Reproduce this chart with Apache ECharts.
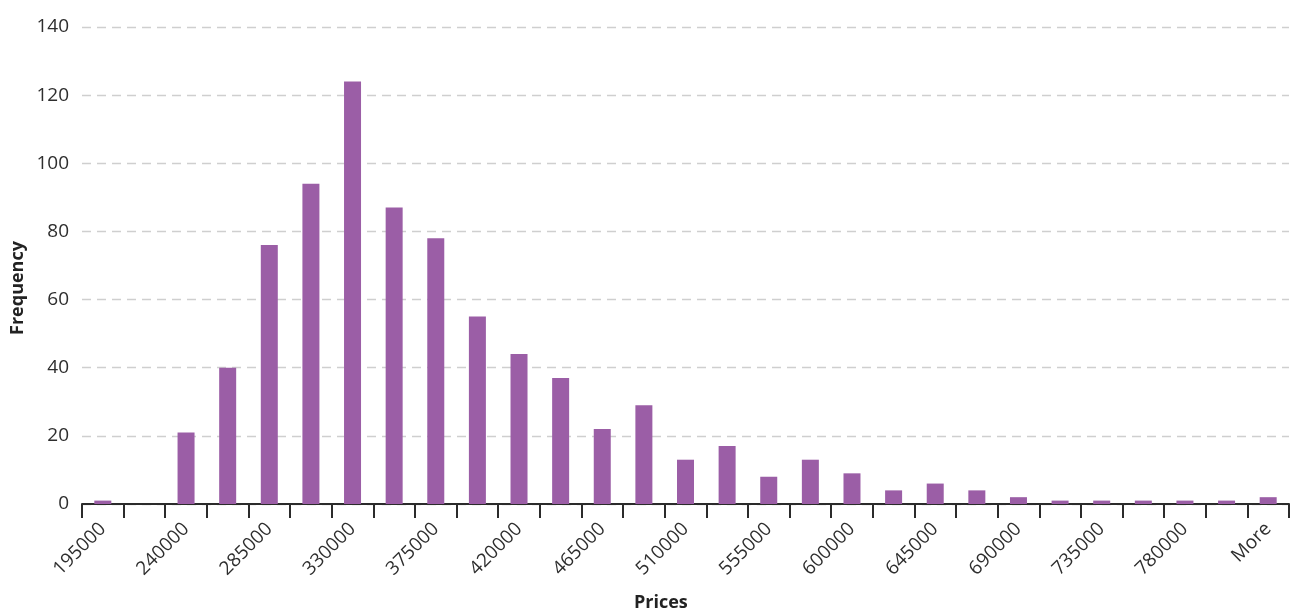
<!DOCTYPE html>
<html>
<head>
<meta charset="utf-8">
<script src="https://cdn.jsdelivr.net/npm/echarts@6/dist/echarts.min.js"></script>
<style>html,body{margin:0;padding:0;background:#fff;}#c{width:1290px;height:612px;}</style>
</head>
<body>
<div id="c"></div>
<script>
const categories = ['195000','217500','240000','262500','285000','307500','330000','352500','375000','397500','420000','442500','465000','487500','510000','532500','555000','577500','600000','622500','645000','667500','690000','712500','735000','757500','780000','802500','More'];
const frequency = [1,0,21,40,76,94,124,87,78,55,44,37,22,29,13,17,8,13,9,4,6,4,2,1,1,1,1,1,2];
const xTitle = 'Prices';
const yTitle = 'Frequency';

const font = 'Open Sans';
const chart = echarts.init(document.getElementById('c'), null, {renderer:'canvas'});
chart.setOption({
  animation: false,
  backgroundColor: '#fff',
  grid: {left: 82, right: 1, top: 27, bottom: 108, containLabel: false},
  xAxis: {
    type: 'category',
    data: categories,
    boundaryGap: true,
    axisLine: {show: true, lineStyle: {color: '#2b2b2b', width: 2}},
    axisTick: {show: true, interval: 0, length: 14, lineStyle: {color: '#2b2b2b', width: 2}},
    axisLabel: {interval: 1, rotate: 45, margin: 22, fontFamily: font, fontSize: 19, color: '#2e2e2e'},
    splitLine: {show: false}
  },
  yAxis: {
    type: 'value',
    min: 0, max: 140, interval: 20,
    axisLine: {show: false},
    axisTick: {show: false},
    axisLabel: {margin: 13, fontFamily: font, fontSize: 19, color: '#2e2e2e'},
    splitLine: {show: true, lineStyle: {color: '#cfcfcf', width: 1.3, type: [9, 6]}}
  },
  graphic: [
    {type: 'text', left: 662 - 28, top: 594, style: {text: xTitle, fontFamily: font, fontSize: 18, fontWeight: 'bold', fill: '#222'}},
    {type: 'text', x: 18, y: 288, rotation: Math.PI / 2, style: {text: yTitle, fontFamily: font, fontSize: 18, fontWeight: 'bold', fill: '#222', align: 'center', verticalAlign: 'middle'}}
  ],
  series: [{
    type: 'bar',
    data: frequency,
    barWidth: 17,
    itemStyle: {color: '#9b5ea6'}
  }]
});
</script>
</body>
</html>
